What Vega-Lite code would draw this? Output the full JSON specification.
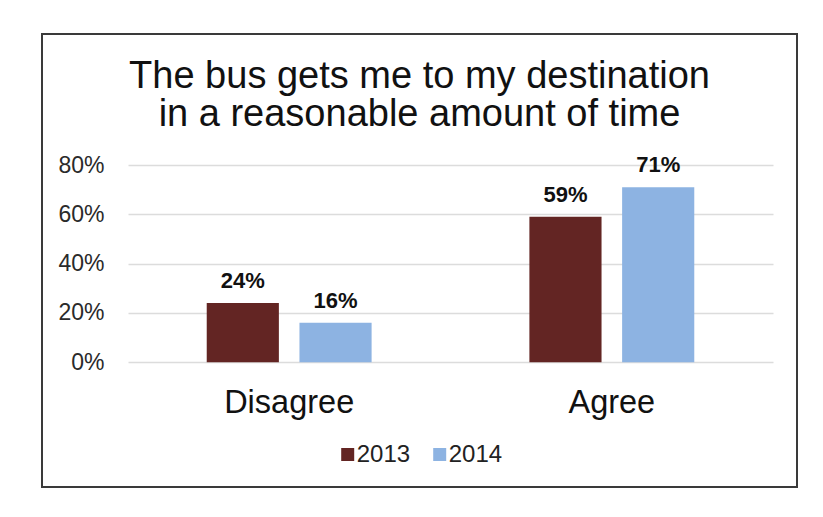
{
  "$schema": "https://vega.github.io/schema/vega-lite/v6.json",
  "width": 755,
  "height": 453,
  "autosize": {"type": "none"},
  "padding": {"left": 42, "top": 34, "right": 26, "bottom": 30},
  "background": "white",
  "config": {
    "view": {"stroke": "#3a3a3a", "strokeWidth": 2, "fill": "white"},
    "font": "Liberation Sans"
  },
  "title": {
    "text": ["The bus gets me to my destination", "in a reasonable amount of time"],
    "fontSize": 38,
    "lineHeight": 38.5,
    "font": "Liberation Sans",
    "fontWeight": "normal",
    "color": "#111111",
    "anchor": "middle",
    "offset": -100
  },
  "data": {
    "values": [
      {"response": "Disagree", "year": "2013", "pct": 0.24},
      {"response": "Disagree", "year": "2014", "pct": 0.16},
      {"response": "Agree", "year": "2013", "pct": 0.59},
      {"response": "Agree", "year": "2014", "pct": 0.71}
    ]
  },
  "encoding": {
    "x": {
      "field": "response",
      "type": "nominal",
      "sort": ["Disagree", "Agree"],
      "scale": {"range": [86, 731], "paddingInner": 0.489, "paddingOuter": 0.244},
      "axis": {
        "title": null,
        "orient": "bottom",
        "offset": -124.7,
        "domain": false,
        "ticks": false,
        "labelAngle": 0,
        "labelFontSize": 32.5,
        "labelColor": "#111111",
        "labelBaseline": "alphabetic",
        "labelPadding": 50.4
      }
    },
    "xOffset": {
      "field": "year",
      "type": "nominal",
      "scale": {"paddingInner": 0.222, "paddingOuter": 0}
    },
    "y": {
      "field": "pct",
      "type": "quantitative",
      "scale": {"domain": [0, 0.8], "range": [328.3, 131], "nice": false},
      "axis": {
        "title": null,
        "format": ".0%",
        "values": [0, 0.2, 0.4, 0.6, 0.8],
        "offset": -86,
        "labelPadding": 24,
        "ticks": false,
        "domain": false,
        "gridColor": "#dcdcdc",
        "gridWidth": 1.5,
        "labelFontSize": 23,
        "labelColor": "#2a2a2a"
      }
    }
  },
  "layer": [
    {
      "mark": {"type": "bar"},
      "encoding": {
        "color": {
          "field": "year",
          "type": "nominal",
          "scale": {"domain": ["2013", "2014"], "range": ["#632523", "#8db3e2"]},
          "legend": {
            "orient": "none",
            "legendX": 293.7,
            "legendY": 408.5,
            "direction": "horizontal",
            "title": null,
            "symbolType": "square",
            "symbolSize": 169,
            "symbolStrokeWidth": 0,
            "labelFontSize": 24,
            "labelOffset": -3,
            "columnPadding": 17,
            "labelColor": "#222222"
          }
        }
      }
    },
    {
      "mark": {"type": "text", "dy": -15, "baseline": "alphabetic", "fontSize": 22, "fontWeight": "bold", "color": "#111111"},
      "encoding": {
        "text": {"field": "pct", "type": "quantitative", "format": ".0%"}
      }
    }
  ]
}
